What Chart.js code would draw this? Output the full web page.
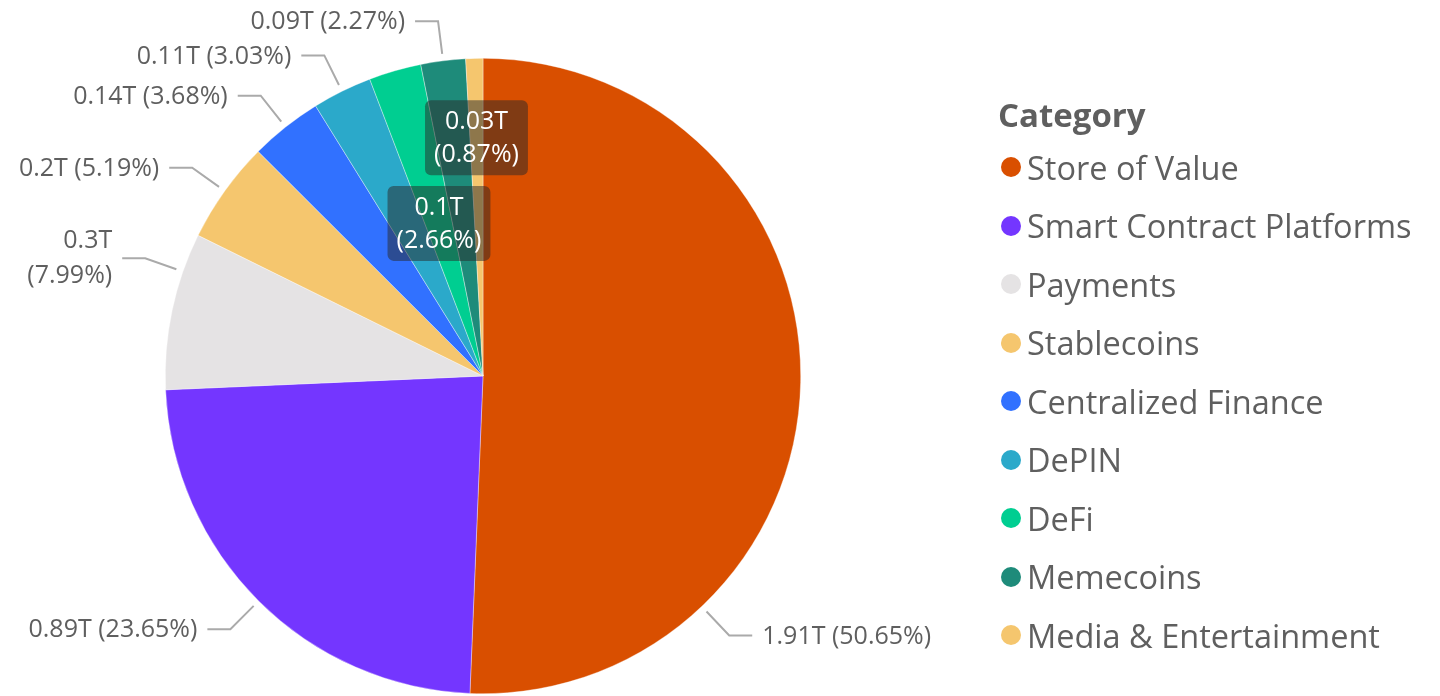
<!DOCTYPE html>
<html lang="en">
<head>
  <meta charset="UTF-8" />
  <title>Category share</title>
  <script src="https://cdn.jsdelivr.net/npm/chart.js"></script>
  <style>
    body { margin: 0; background: #fff; font-family: "Open Sans", sans-serif; }
    #wrap { position: relative; width: 1440px; height: 696px; }
    #legend { position: absolute; left: 998px; top: 91px; color: #5f5f5f; }
    #legend .title { font-weight: bold; font-size: 33px; height: 47px; line-height: 47px; }
    #legend .item { display: flex; align-items: center; height: 58.5px; font-size: 32.5px; }
    #legend .dot { width: 20px; height: 20px; border-radius: 50%; margin: 0 6px 0 3px; flex: none; }
  </style>
</head>
<body>
<div id="wrap">
  <canvas id="chart" width="1440" height="696"></canvas>
  <div id="legend"><div class="title">Category</div></div>
</div>
<script>
const categories = ['Store of Value', 'Smart Contract Platforms', 'Payments', 'Stablecoins', 'Centralized Finance', 'DePIN', 'DeFi', 'Memecoins', 'Media & Entertainment'];
const valuesT = [1.91, 0.89, 0.3, 0.2, 0.14, 0.11, 0.1, 0.09, 0.03];
const shares = [50.65, 23.65, 7.99, 5.19, 3.68, 3.03, 2.66, 2.27, 0.87];
const colors = ['#D94F00', '#7436FF', '#E5E3E4', '#F5C66E', '#3171FF', '#2BA9CA', '#00CE91', '#1E8B7A', '#F5C66E'];

// legend
const legend = document.getElementById('legend');
categories.forEach((c, i) => {
  const d = document.createElement('div');
  d.className = 'item';
  d.innerHTML = '<span class="dot" style="background:' + colors[i] + '"></span><span></span>';
  d.lastChild.textContent = c;
  legend.appendChild(d);
});

const FONT = '25px "Open Sans", sans-serif';
const TEXT = '#5f5f5f';

const pieLabels = {
  id: 'pieLabels',
  afterDatasetsDraw(chart, args, opts) {
    const ctx = chart.ctx;
    const arcs = chart.getDatasetMeta(0).data;
    ctx.save();
    ctx.font = FONT;
    ctx.textBaseline = 'middle';
    arcs.forEach((arc, i) => {
      const cx = arc.x, cy = arc.y, R = arc.outerRadius;
      let a = (arc.startAngle + arc.endAngle) / 2;
      if (opts.angles[i] != null) a = (opts.angles[i] - 90) * Math.PI / 180;
      const l1 = valuesT[i] + 'T', l2 = '(' + shares[i].toFixed(2) + '%)';
      const cos = Math.cos(a), sin = Math.sin(a);

      if (opts.inside[i] != null) {
        const r = R * opts.inside[i];
        const x = cx + r * cos, y = cy + r * sin;
        const w = Math.max(ctx.measureText(l1).width, ctx.measureText(l2).width) + 18;
        const h = 75;
        ctx.fillStyle = 'rgba(40,40,40,0.5)';
        ctx.beginPath();
        ctx.roundRect(x - w / 2, y - h / 2, w, h, 6);
        ctx.fill();
        ctx.fillStyle = '#fff';
        ctx.textAlign = 'center';
        ctx.fillText(l1, x, y - 16);
        ctx.fillText(l2, x, y + 17);
        return;
      }

      const sx = cx + (R + 7) * cos, sy = cy + (R + 7) * sin;
      const ex = cx + (R + 40) * cos, ey = cy + (R + 40) * sin;
      const right = cos >= 0;
      const hx = ex + (right ? 23 : -23);
      ctx.strokeStyle = '#aaaaaa';
      ctx.lineWidth = 2;
      ctx.beginPath();
      ctx.moveTo(sx, sy);
      ctx.lineTo(ex, ey);
      ctx.lineTo(hx, ey);
      ctx.stroke();

      ctx.fillStyle = TEXT;
      const tx = hx + (right ? 10 : -10);
      ctx.textAlign = right ? 'left' : 'right';
      const one = l1 + ' ' + l2;
      const w = ctx.measureText(one).width;
      const room = right ? chart.width - tx - 4 : tx - 4;
      if (w <= room) {
        ctx.fillText(one, tx, ey + 1);
      } else {
        ctx.fillText(l1, tx, ey - 17);
        ctx.fillText(l2, tx, ey + 18);
      }
    });
    ctx.restore();
  }
};

new Chart(document.getElementById('chart'), {
  type: 'pie',
  data: {
    labels: categories,
    datasets: [{
      data: shares,
      backgroundColor: colors,
      borderColor: 'rgba(255,255,255,0.6)',
      borderWidth: 0.6
    }]
  },
  options: {
    responsive: false,
    animation: false,
    layout: { padding: { left: 165, right: 639, top: 58, bottom: 2 } },
    plugins: {
      legend: { display: false },
      tooltip: { enabled: false },
      pieLabels: {
        angles: { 0: 136.5, 2: 289.2 },
        inside: { 6: 0.5, 8: 0.75 }
      }
    }
  },
  plugins: [pieLabels]
});
</script>
</body>
</html>
